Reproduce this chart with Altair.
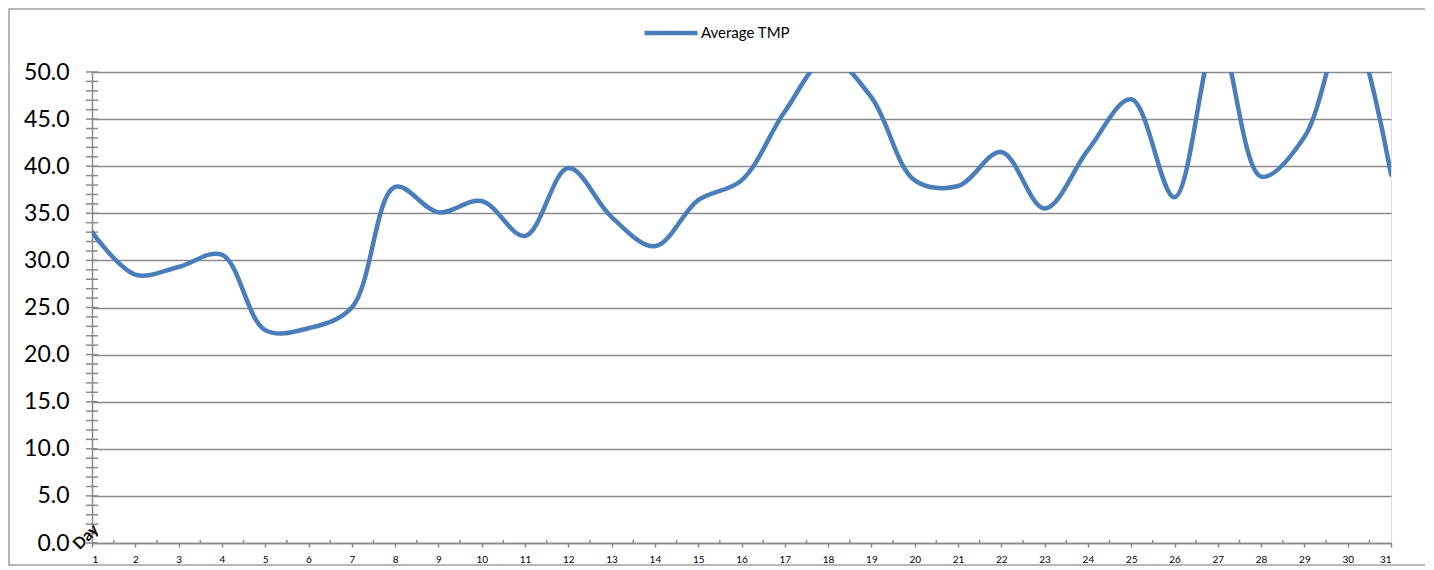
import altair as alt
import pandas as pd

days = list(range(1, 32))
avg_tmp = [33.0, 28.5, 29.3, 30.6, 22.6, 22.8, 25.0, 37.8, 35.1, 36.3,
           32.6, 39.8, 34.6, 31.5, 36.4, 38.5, 45.8, 51.5, 47.3, 38.5,
           37.9, 41.5, 35.5, 41.7, 47.1, 36.7, 54.0, 38.9, 43.1, 55.5, 39.1]
series_name = "Average TMP"
x_title = "Day"
y_major = [0, 5, 10, 15, 20, 25, 30, 35, 40, 45, 50]
y_minor = list(range(0, 51))
x_half = [d + 0.5 for d in range(1, 31)]

FONT = "Lato"
BLUE = "#4A7EBB"
GRID = "#8A8A8A"

df = pd.DataFrame({"Day": days, "TMP": avg_tmp, "series": [series_name] * len(days)})
yticks_df = pd.DataFrame({"v": y_minor})
xhalf_df = pd.DataFrame({"h": x_half})
frame_df = pd.DataFrame({"k": [0]})
title_df = pd.DataFrame({"t": [x_title]})

W, H = 1299, 471

yscale = alt.Scale(domain=[0, 50], nice=False, zero=True)
xscale = alt.Scale(domain=[1, 31], nice=False, zero=False)

line = alt.Chart(df).mark_line(
    interpolate="catmull-rom", strokeWidth=4.5, clip=True, strokeCap="round"
).encode(
    x=alt.X("Day:Q", scale=xscale,
            axis=alt.Axis(values=days, format="d", title=None,
                          tickSize=4, tickColor=GRID, tickWidth=1.5,
                          domainColor=GRID, domainWidth=1.5,
                          labelFont=FONT, labelFontSize=10, labelColor="black",
                          labelPadding=7, labelOverlap=False, grid=False)),
    y=alt.Y("TMP:Q", scale=yscale,
            axis=alt.Axis(values=y_major, format=".1f", ticks=False,
                          grid=True, gridColor=GRID, gridWidth=1.5,
                          domainColor=GRID, domainWidth=1.5,
                          labelFont=FONT, labelFontSize=23, labelColor="black",
                          labelPadding=23, title=None)),
    color=alt.Color("series:N", scale=alt.Scale(range=[BLUE]),
                    legend=alt.Legend(title=None, orient="none", legendX=550, legendY=-68,
                                      symbolType="stroke", symbolSize=2809,
                                      symbolStrokeWidth=4.5, symbolStrokeColor=BLUE,
                                      labelFont=FONT, labelFontSize=15, labelColor="black",
                                      labelOffset=1)),
)

yticks = alt.Chart(yticks_df).mark_rule(color=GRID, strokeWidth=1.5).encode(
    y=alt.Y("v:Q", scale=yscale),
    x=alt.value(-6),
    x2=alt.value(6),
)

xhalf = alt.Chart(xhalf_df).mark_rule(color=GRID, strokeWidth=1.5).encode(
    x=alt.X("h:Q", scale=xscale),
    y=alt.value(H - 3),
    y2=alt.value(H),
)

day_title = alt.Chart(title_df).mark_text(
    angle=315, font=FONT, fontSize=16, fontWeight="bold", color="black",
    align="center", baseline="middle"
).encode(text="t:N", x=alt.value(-6), y=alt.value(H - 6))

frame = alt.Chart(frame_df).mark_rect(fill="transparent", stroke="#A0A0A0", strokeWidth=1.5).encode(
    x=alt.value(-83), x2=alt.value(1341), y=alt.value(-63), y2=alt.value(493)
)

chart = alt.layer(frame, yticks, xhalf, line, day_title).properties(
    width=W, height=H,
    padding={"left": 84, "top": 64, "right": 34, "bottom": 24},
    autosize=alt.AutoSizeParams(type="none"),
).configure_view(stroke=None).configure(background="white")

chart.save("out.html", embed_options={"renderer": "svg", "actions": False})
